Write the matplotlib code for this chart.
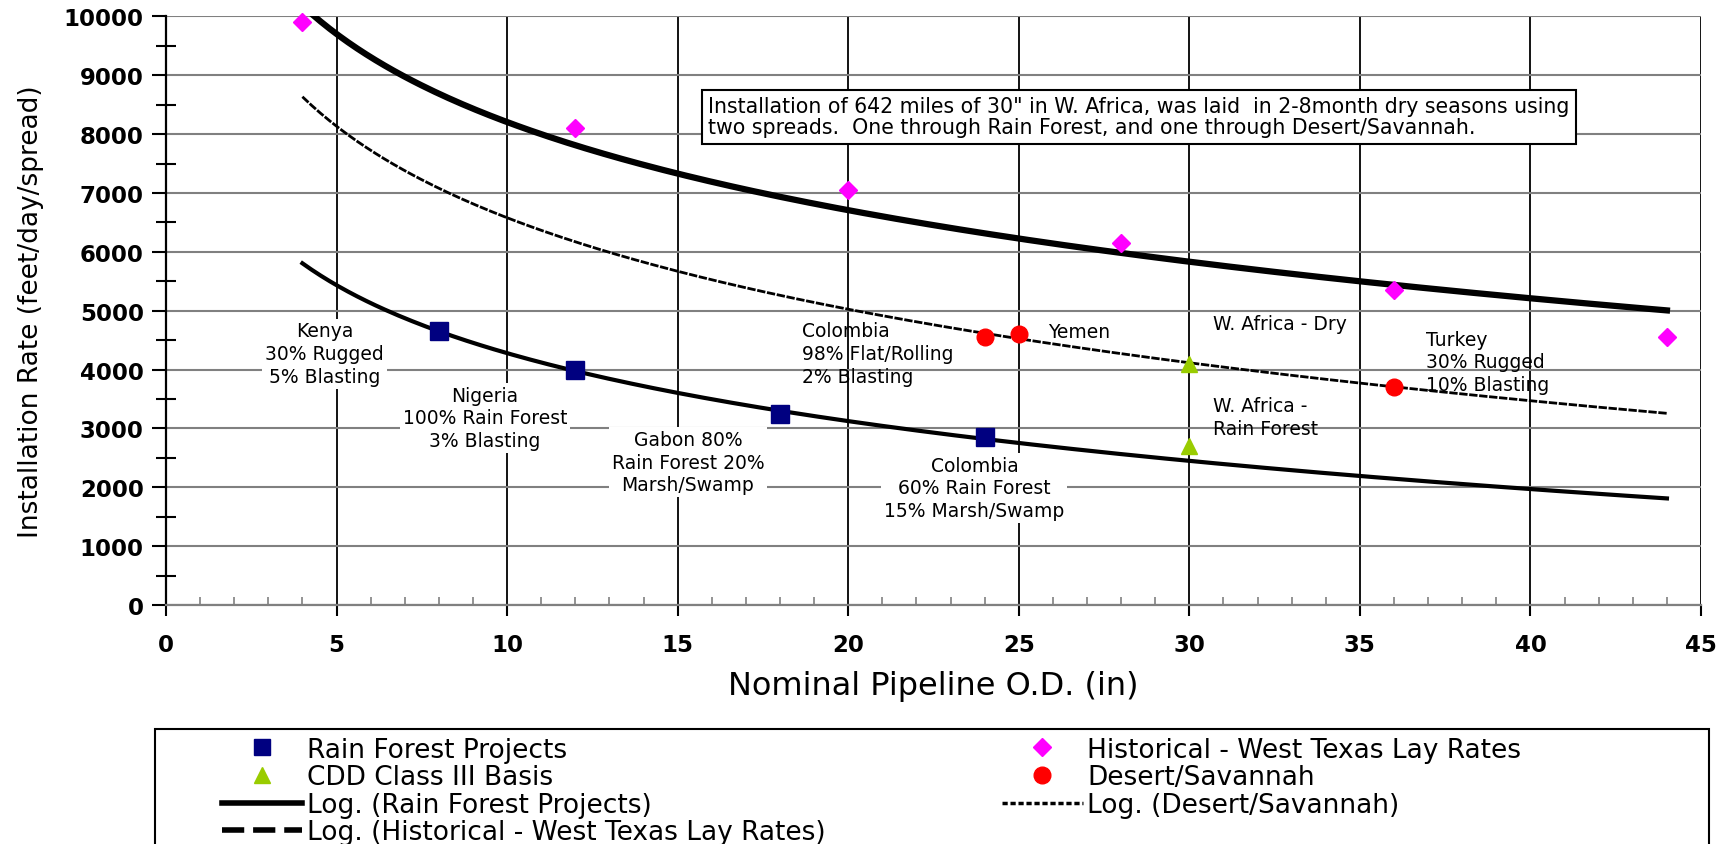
import numpy as np
import matplotlib
matplotlib.use("Agg")
import matplotlib.pyplot as plt
from matplotlib.lines import Line2D
from matplotlib.patches import Rectangle
from matplotlib.ticker import MultipleLocator

plt.rcParams['font.family'] = ['DejaVu Sans']

# values
rain_x = [8, 12, 18, 24]
rain_y = [4650, 4000, 3250, 2850]
hist_x = [4, 12, 20, 28, 36, 44]
hist_y = [9900, 8100, 7050, 6150, 5350, 4550]
cdd_x = [30, 30]
cdd_y = [4100, 2700]
desert_x = [24, 25, 36]
desert_y = [4550, 4600, 3700]

# historical log trend as drawn on the chart: a + b*ln(x)
hist_trend_a = 13180
hist_trend_b = -2160
trend_x_from, trend_x_to = 4, 44

NAVY = '#000080'
MAGENTA = '#FF00FF'
RED = '#FF0000'
GREEN = '#99CC00'

fig = plt.figure(figsize=(17.34, 8.45), dpi=100)
ax = fig.add_axes([0.0957, 0.2828, 0.8853, 0.6965])

# log trend lines
xs = np.linspace(trend_x_from, trend_x_to, 300)
rf_b, rf_a = np.polyfit(np.log(rain_x), rain_y, 1)
ds_b, ds_a = np.polyfit(np.log(desert_x), desert_y, 1)
ax.plot(xs, hist_trend_a + hist_trend_b * np.log(xs), color='k', lw=4.5, zorder=3)
ax.plot(xs, rf_a + rf_b * np.log(xs), color='k', lw=3, zorder=3)
ax.plot(xs, ds_a + ds_b * np.log(xs), color='k', lw=2, dashes=(3, 0.6), zorder=3)

# data points
ax.plot(rain_x, rain_y, 's', color=NAVY, ms=13, ls='none', zorder=4)
ax.plot(hist_x, hist_y, 'D', color=MAGENTA, ms=9.5, ls='none', zorder=4, clip_on=False)
ax.plot(cdd_x, cdd_y, '^', color=GREEN, ms=12, ls='none', zorder=4)
ax.plot(desert_x, desert_y, 'o', color=RED, ms=12, ls='none', zorder=4)

ax.set_xlim(0, 45)
ax.set_ylim(0, 10000)
ax.xaxis.set_major_locator(MultipleLocator(5))
ax.xaxis.set_minor_locator(MultipleLocator(1))
ax.yaxis.set_major_locator(MultipleLocator(1000))
ax.yaxis.set_minor_locator(MultipleLocator(500))

ax.grid(axis='x', which='major', color='k', lw=1.3)
ax.grid(axis='y', which='major', color='#808080', lw=1.5)
ax.set_axisbelow(True)

for s in ['top', 'right']:
    ax.spines[s].set_visible(False)
ax.spines['left'].set_linewidth(1.6)
ax.spines['left'].set_color('k')
ax.spines['bottom'].set_linewidth(1.6)
ax.spines['bottom'].set_color('#808080')

ax.tick_params(axis='y', which='major', direction='out', length=10, width=1.5, color='k', pad=6, labelsize=16.5)
ax.tick_params(axis='y', which='minor', direction='inout', length=14, width=1.5, color='k')
ax.tick_params(axis='x', which='major', direction='out', length=8, width=1.5, color='k', pad=12, labelsize=16.5)
ax.tick_params(axis='x', which='minor', direction='in', length=6, width=1.2, color='#808080')
for lbl in ax.get_xticklabels() + ax.get_yticklabels():
    lbl.set_fontweight('bold')

ax.set_xlabel('Nominal Pipeline O.D. (in)', fontsize=23)
ax.xaxis.set_label_coords(0.5, -0.136)
ax.xaxis.label.set_va('center')
ax.set_ylabel('Installation Rate (feet/day/spread)', fontsize=19)
ax.yaxis.set_label_coords(-0.088, 0.5)
ax.yaxis.label.set_va('center')

# annotations
white = dict(boxstyle='square,pad=0.15', fc='white', ec='none')
note_kw = dict(fontsize=13.5, linespacing=1.25, zorder=2)
ax.text(4.65, 4270, 'Kenya\n30% Rugged\n5% Blasting', ha='center', va='center', bbox=white, **note_kw)
ax.text(9.35, 3180, 'Nigeria\n100% Rain Forest\n3% Blasting', ha='center', va='center', bbox=white, **note_kw)
ax.text(15.3, 2430, 'Gabon 80%\nRain Forest 20%\nMarsh/Swamp', ha='center', va='center', bbox=white, **note_kw)
ax.text(23.7, 1990, 'Colombia\n60% Rain Forest\n15% Marsh/Swamp', ha='center', va='center', bbox=white, **note_kw)
ax.text(18.65, 4270, 'Colombia\n98% Flat/Rolling\n2% Blasting', ha='left', va='center', **note_kw)
ax.text(25.85, 4640, 'Yemen', ha='left', va='center', **note_kw)
ax.text(30.7, 4790, 'W. Africa - Dry', ha='left', va='center', **note_kw)
ax.text(30.7, 3200, 'W. Africa -\nRain Forest', ha='left', va='center', **note_kw)
ax.text(36.95, 4130, 'Turkey\n30% Rugged\n10% Blasting', ha='left', va='center', **note_kw)

ax.text(15.9, 8300,
        'Installation of 642 miles of 30" in W. Africa, was laid  in 2-8month dry seasons using\n'
        'two spreads.  One through Rain Forest, and one through Desert/Savannah.',
        ha='left', va='center', fontsize=14.8, linespacing=1.1, zorder=5,
        bbox=dict(boxstyle='square,pad=0.3', fc='white', ec='k', lw=1.5))

# legend (two columns, box runs off the bottom like the original)
h_rain = Line2D([], [], marker='s', color=NAVY, ms=12, ls='none')
h_cdd = Line2D([], [], marker='^', color=GREEN, ms=12, ls='none')
h_lrf = Line2D([], [], color='k', lw=4)
h_lhist = Line2D([], [], color='k', lw=4, dashes=(4, 1.6))
h_hist = Line2D([], [], marker='D', color=MAGENTA, ms=9, ls='none')
h_des = Line2D([], [], marker='o', color=RED, ms=12, ls='none')
h_ldes = Line2D([], [], color='k', lw=2.5, dashes=(1.5, 0.8))

leg_kw = dict(loc='upper left', frameon=False, fontsize=19, borderpad=0, borderaxespad=0,
              handlelength=3.05, handletextpad=0.18, labelspacing=0.06)
leg1 = fig.legend([h_rain, h_cdd, h_lrf, h_lhist],
                  ['Rain Forest Projects', 'CDD Class III Basis', 'Log. (Rain Forest Projects)',
                   'Log. (Historical - West Texas Lay Rates)'],
                  bbox_to_anchor=(0.128, 0.127), **leg_kw)
leg2 = fig.legend([h_hist, h_des, h_ldes],
                  ['Historical - West Texas Lay Rates', 'Desert/Savannah', 'Log. (Desert/Savannah)'],
                  bbox_to_anchor=(0.578, 0.127), **leg_kw)
fig.add_artist(Rectangle((0.0894, -0.05), 0.896, 0.186, transform=fig.transFigure,
                         fill=False, ec='k', lw=1.5))

fig.savefig('out.png', dpi=100)
